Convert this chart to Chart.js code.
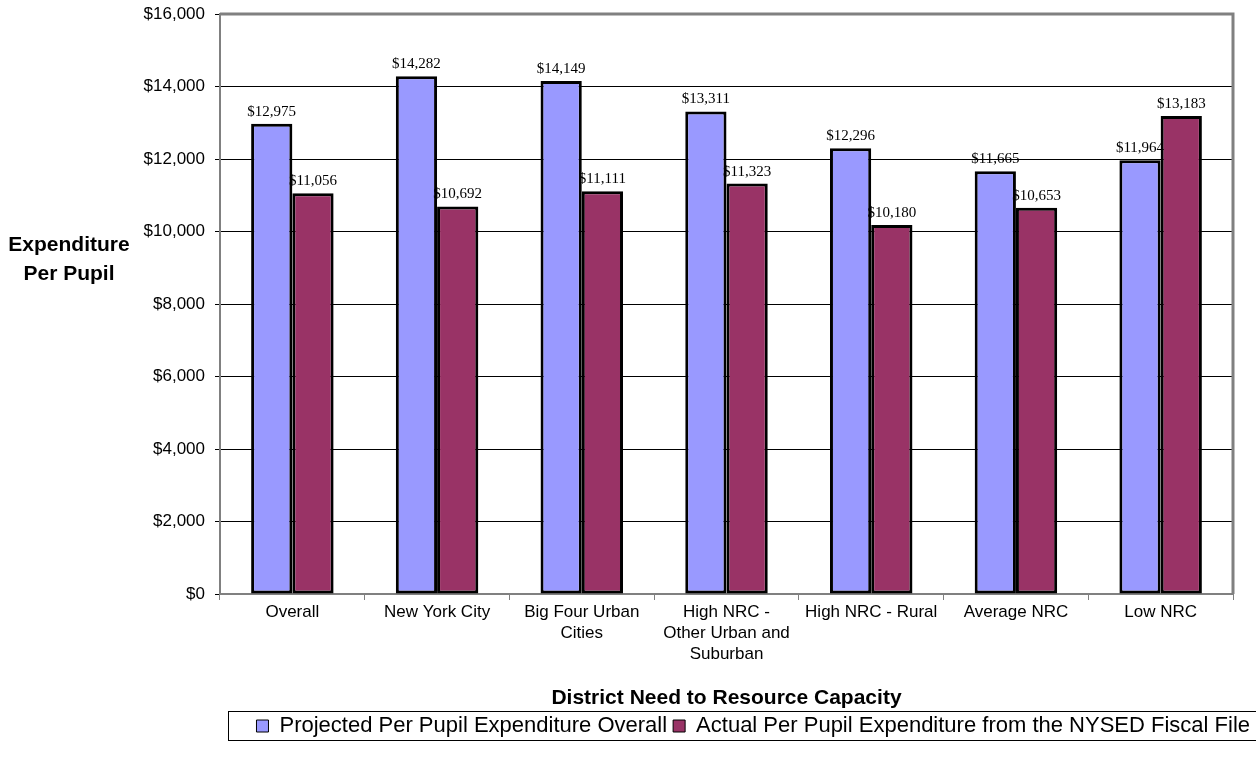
<!DOCTYPE html>
<html>
<head>
<meta charset="utf-8">
<script src="https://cdn.jsdelivr.net/npm/chart.js@4"></script>
<style>
  html, body { margin: 0; padding: 0; background: #fff; }
  #wrap { width: 1256px; height: 768px; }
</style>
</head>
<body>
<div id="wrap"><canvas id="chart" width="1256" height="768"></canvas></div>
<script>
const categories = [
    'Overall',
    'New York City',
    ['Big Four Urban', 'Cities'],
    ['High NRC -', 'Other Urban and', 'Suburban'],
    'High NRC - Rural',
    'Average NRC',
    'Low NRC'
];
const projected = [12975, 14282, 14149, 13311, 12296, 11665, 11964];
const actual = [11056, 10692, 11111, 11323, 10180, 10653, 13183];
const seriesNames = [
    'Projected Per Pupil Expenditure Overall',
    'Actual Per Pupil Expenditure from the NYSED Fiscal File'
];
const yTitle = ['Expenditure', 'Per Pupil'];
const xTitle = 'District Need to Resource Capacity';

const sans = '"Liberation Sans", Arial, sans-serif';
const money = v => '$' + Number(v).toLocaleString('en-US');

// value labels above each bar
const valueLabels = {
    id: 'valueLabels',
    afterDatasetsDraw(chart) {
        const ctx = chart.ctx;
        ctx.save();
        ctx.font = '15px "Liberation Serif", "Times New Roman", serif';
        ctx.fillStyle = '#000';
        ctx.textAlign = 'center';
        ctx.textBaseline = 'alphabetic';
        chart.data.datasets.forEach((ds, i) => {
            chart.getDatasetMeta(i).data.forEach((bar, j) => {
                ctx.fillText(money(ds.data[j]), bar.x, bar.y - 8);
            });
        });
        ctx.restore();
    }
};

// frame, y title, legend box
const extras = {
    id: 'extras',
    beforeDatasetsDraw(chart) {
        const ctx = chart.ctx;
        const a = chart.chartArea;
        ctx.save();
        ctx.strokeStyle = '#808080';
        ctx.lineWidth = 3;
        ctx.beginPath();
        ctx.moveTo(a.left, a.top);
        ctx.lineTo(a.right, a.top);
        ctx.lineTo(a.right, a.bottom);
        ctx.stroke();
        ctx.restore();
    },
    afterDraw(chart) {
        const ctx = chart.ctx;
        ctx.save();
        ctx.font = 'bold 21px ' + sans;
        ctx.fillStyle = '#000';
        ctx.textAlign = 'center';
        ctx.textBaseline = 'middle';
        ctx.fillText(yTitle[0], 69, 245);
        ctx.fillText(yTitle[1], 69, 274);
        ctx.strokeStyle = '#000';
        ctx.lineWidth = 1;
        ctx.strokeRect(228.5, 711.5, 1040, 29);
        ctx.restore();
    }
};

new Chart(document.getElementById('chart'), {
    type: 'bar',
    data: {
        labels: categories,
        datasets: [{
            label: seriesNames[0],
            data: projected,
            backgroundColor: '#9999FF',
            borderColor: '#000',
            borderWidth: 3,
            borderSkipped: false
        }, {
            label: seriesNames[1],
            data: actual,
            backgroundColor: '#993366',
            borderColor: '#000',
            borderWidth: 3,
            borderSkipped: false
        }]
    },
    options: {
        responsive: false,
        animation: false,
        events: [],
        layout: { autoPadding: false, padding: { top: 14, right: 0, left: 0, bottom: 21 } },
        datasets: { bar: { categoryPercentage: 0.57, barPercentage: 1.0 } },
        scales: {
            x: {
                offset: true,
                grid: { offset: true, drawOnChartArea: false, color: '#808080', tickLength: 6 },
                border: { color: '#808080', width: 2 },
                ticks: {
                    color: '#000',
                    maxRotation: 0,
                    autoSkip: false,
                    padding: 2,
                    font: { family: sans, size: 17, lineHeight: 1.235 }
                },
                title: {
                    display: true,
                    text: xTitle,
                    color: '#000',
                    font: { family: sans, size: 21, weight: 'bold', lineHeight: 1.0 },
                    padding: { top: 0, bottom: 0 }
                },
                afterFit(scale) { scale.height = 115; }
            },
            y: {
                min: 0,
                max: 16000,
                ticks: {
                    stepSize: 2000,
                    color: '#000',
                    padding: 10,
                    font: { family: sans, size: 17 },
                    callback: v => money(v)
                },
                grid: { color: '#000', lineWidth: 1, tickLength: 5 },
                border: { color: '#808080', width: 2 },
                afterFit(scale) {
                    scale.width = 220;
                    scale.paddingTop = 0;
                    scale.paddingBottom = 0;
                }
            },
            // empty right-hand spacer so the legend can run to the edge
            spacer: {
                type: 'linear',
                position: 'right',
                display: true,
                ticks: { display: false },
                grid: { display: false },
                border: { display: false },
                afterFit(scale) {
                    scale.width = 23;
                    scale.paddingTop = 0;
                    scale.paddingBottom = 0;
                }
            }
        },
        plugins: {
            legend: {
                position: 'bottom',
                align: 'end',
                labels: {
                    color: '#000',
                    boxWidth: 12,
                    boxHeight: 12,
                    padding: 6,
                    font: { family: sans, size: 22 },
                    generateLabels(chart) {
                        const items = Chart.defaults.plugins.legend.labels.generateLabels(chart);
                        items.forEach(it => { it.lineWidth = 1; });
                        return items;
                    }
                }
            },
            tooltip: { enabled: false },
            title: { display: false }
        }
    },
    plugins: [valueLabels, extras]
});
</script>
</body>
</html>
